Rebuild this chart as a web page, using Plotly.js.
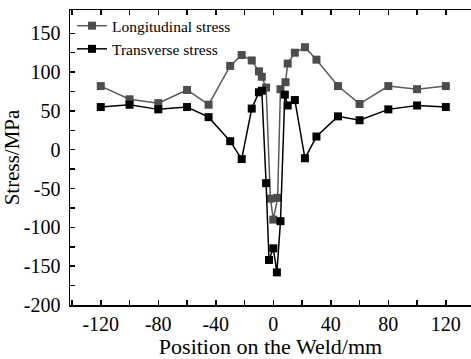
<!DOCTYPE html>
<html>
<head>
<meta charset="utf-8">
<script src="https://cdn.plot.ly/plotly-3.0.1.min.js"></script>
<style>
html,body{margin:0;padding:0;background:#fff;}
#chart{width:471px;height:359px;}
</style>
</head>
<body>
<div id="chart"></div>
<script>
// Data
const longPos = [-120, -100, -80, -60, -45, -30, -22, -15, -10, -8, -5, -2, 0, 3, 5, 8.5, 10, 15, 22, 30, 45, 60, 80, 100, 120];
const longStress = [82, 65, 60, 77, 58, 108, 122, 115, 101, 94, 80, -63, -90, -62, 78, 87, 111, 125, 132, 116, 82, 59, 82, 78, 82];

const transPos = [-120, -100, -80, -60, -45, -30, -22, -15, -10, -8, -5, -3, 0, 2.5, 5, 8, 10, 15, 22, 30, 45, 60, 80, 100, 120];
const transStress = [55, 58, 52, 55, 42, 11, -12, 53, 74, 76, -43, -142, -127, -158, -92, 71, 57, 64, -11, 17, 43, 38, 52, 57, 55];

const seriesNames = ['Longitudinal stress', 'Transverse stress'];

const xTickVals = [-120, -80, -40, 0, 40, 80, 120];
const xTickText = ['-120', '-80', '-40', '0', '40', '80', '120'];
const xMinorVals = [-140, -100, -60, -20, 20, 60, 100, 140];
const yTickVals = [-200, -150, -100, -50, 0, 50, 100, 150];
const yTickText = ['-200', '-150', '-100', '-50', '0', '50', '100', '150'];
const yMinorVals = [-175, -125, -75, -25, 25, 75, 125];

const serif = 'Liberation Serif, serif';

const traces = [
  {
    x: longPos, y: longStress, name: seriesNames[0],
    mode: 'lines+markers', type: 'scatter',
    line: {color: '#5a5a5a', width: 1.5},
    marker: {symbol: 'square', size: 8, color: '#4d4d4d'}
  },
  {
    x: transPos, y: transStress, name: seriesNames[1],
    mode: 'lines+markers', type: 'scatter',
    line: {color: '#000000', width: 1.5},
    marker: {symbol: 'square', size: 8, color: '#000000'}
  }
];

const layout = {
  width: 471, height: 359,
  margin: {l: 70, r: 0, t: 10, b: 54},
  paper_bgcolor: '#ffffff', plot_bgcolor: '#ffffff',
  font: {family: serif, color: '#000000'},
  showlegend: true,
  legend: {
    x: 0.005, y: 1.003, xanchor: 'left', yanchor: 'top',
    bgcolor: 'rgba(0,0,0,0)', borderwidth: 0,
    font: {family: serif, size: 15.5, color: '#000'},
    itemwidth: 30, tracegroupgap: 0
  },
  xaxis: {
    range: [-141.4, 137.5],
    showgrid: false, zeroline: false,
    showline: true, linecolor: '#000', linewidth: 1.5,
    mirror: 'ticks',
    ticks: 'inside', ticklen: 5, tickwidth: 1.5, tickcolor: '#000',
    tickmode: 'array', tickvals: xTickVals, ticktext: xTickText,
    minor: {tickvals: xMinorVals, ticks: 'inside', ticklen: 5, tickwidth: 1.5, tickcolor: '#000', showgrid: false},
    tickfont: {family: serif, size: 20, color: '#000'},
    title: {text: 'Position on the Weld/mm', font: {family: serif, size: 22, color: '#000'}, standoff: 5}
  },
  yaxis: {
    range: [-200, 180],
    showgrid: false, zeroline: false,
    showline: true, linecolor: '#000', linewidth: 1.5,
    mirror: false,
    ticks: 'inside', ticklen: 5, tickwidth: 1.5, tickcolor: '#000',
    tickmode: 'array', tickvals: yTickVals, ticktext: yTickText,
    minor: {tickvals: yMinorVals, ticks: 'inside', ticklen: 5, tickwidth: 1.5, tickcolor: '#000', showgrid: false},
    tickfont: {family: serif, size: 20, color: '#000'},
    ticklabelstandoff: 4,
    title: {text: 'Stress/MPa', font: {family: serif, size: 21, color: '#000'}, standoff: 4}
  }
};

Plotly.newPlot('chart', traces, layout, {displayModeBar: false, staticPlot: true});
</script>
</body>
</html>
